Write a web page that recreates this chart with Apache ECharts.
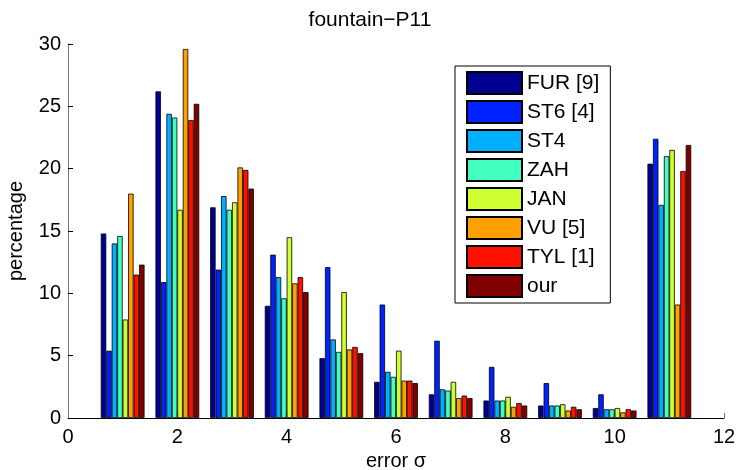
<!DOCTYPE html>
<html>
<head>
<meta charset="utf-8">
<script src="https://cdn.jsdelivr.net/npm/echarts@6/dist/echarts.min.js"></script>
<style>
  html, body { margin: 0; padding: 0; background: #fff; }
  #main { width: 740px; height: 470px; }
</style>
</head>
<body>
<div id="main"></div>
<script>
// error sigma bins
var xs = [1, 2, 3, 4, 5, 6, 7, 8, 9, 10, 11];

// percentage per method
var fur = [14.8, 26.2, 16.9, 9.0, 4.8, 2.9, 1.9, 1.4, 1.0, 0.8, 20.4];
var st6 = [5.4, 10.9, 11.9, 13.1, 12.1, 9.1, 6.2, 4.1, 2.8, 1.9, 22.4];
var st4 = [14.0, 24.4, 17.8, 11.3, 6.3, 3.7, 2.3, 1.4, 1.0, 0.7, 17.1];
var zah = [14.6, 24.1, 16.7, 9.6, 5.3, 3.3, 2.2, 1.4, 1.0, 0.7, 21.0];
var jan = [7.9, 16.7, 17.3, 14.5, 10.1, 5.4, 2.9, 1.7, 1.1, 0.8, 21.5];
var vu = [18.0, 29.6, 20.1, 10.8, 5.5, 3.0, 1.6, 0.9, 0.6, 0.45, 9.1];
var tyl = [11.5, 23.9, 19.9, 11.3, 5.7, 3.0, 1.8, 1.2, 0.9, 0.7, 19.8];
var our = [12.3, 25.2, 18.4, 10.1, 5.2, 2.8, 1.6, 1.0, 0.7, 0.6, 21.9];

var names = ['FUR [9]', 'ST6 [4]', 'ST4', 'ZAH', 'JAN', 'VU [5]', 'TYL [1]', 'our'];
var values = [fur, st6, st4, zah, jan, vu, tyl, our];
// jet colours
var colors = ['#000090', '#0022ff', '#00b0ff', '#40ffc0', '#cfff30', '#ffa000', '#ff1000', '#800000'];

var font = "'Liberation Sans', Arial, Helvetica, sans-serif";

var myChart = echarts.init(document.getElementById('main'));

var series = names.map(function (name, i) {
    return {
        name: name,
        type: 'bar',
        barGap: 0,
        barCategoryGap: '20%',
        itemStyle: {
            color: colors[i],
            borderColor: '#000',
            borderWidth: 0.8
        },
        emphasis: { disabled: true },
        data: xs.map(function (x, j) { return [x, values[i][j]]; })
    };
});

var option = {
    animation: false,
    title: {
        text: 'fountain\u2212P11',
        left: 'center',
        top: 5,
        textStyle: { fontFamily: font, fontSize: 21, fontWeight: 'normal', color: '#000' }
    },
    legend: {
        orient: 'vertical',
        left: 455,
        top: 66,
        padding: [5, 11, 5, 11],
        itemWidth: 55,
        itemHeight: 22,
        itemGap: 5,
        icon: 'rect',
        borderColor: '#000',
        borderWidth: 1,
        backgroundColor: '#fff',
        textStyle: { fontFamily: font, fontSize: 21, color: '#000' },
        data: names
    },
    grid: {
        left: 68,
        top: 44,
        width: 656,
        height: 374,
        outerBoundsMode: 'none',
        containLabel: false
    },
    xAxis: {
        type: 'value',
        min: 0,
        max: 12,
        interval: 2,
        name: 'error \u03c3',
        nameLocation: 'middle',
        nameGap: 31,
        nameTextStyle: { fontFamily: font, fontSize: 20, color: '#000' },
        axisLine: { show: true, lineStyle: { color: '#000', width: 1 } },
        axisTick: { show: true, inside: true, length: 5, lineStyle: { color: '#777' } },
        axisLabel: { fontFamily: font, fontSize: 20, color: '#000', margin: 9 },
        splitLine: { show: false }
    },
    yAxis: {
        type: 'value',
        min: 0,
        max: 30,
        interval: 5,
        name: 'percentage',
        nameLocation: 'middle',
        nameGap: 42,
        nameTextStyle: { fontFamily: font, fontSize: 20, color: '#000' },
        axisLine: { show: true, lineStyle: { color: '#777', width: 1 } },
        axisTick: { show: true, inside: true, length: 5, lineStyle: { color: '#000' } },
        axisLabel: { fontFamily: font, fontSize: 20, color: '#000', margin: 7 },
        splitLine: { show: false }
    },
    series: series
};

myChart.setOption(option);
</script>
</body>
</html>
